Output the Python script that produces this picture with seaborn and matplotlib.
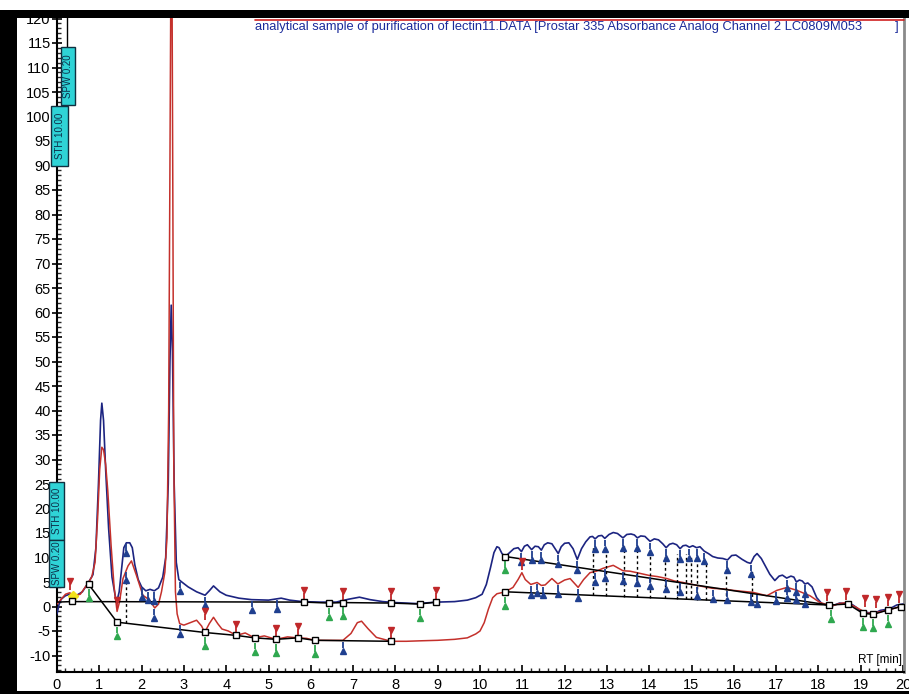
import numpy as np
import pandas as pd
import matplotlib
matplotlib.use("Agg")
import matplotlib.pyplot as plt
from matplotlib.patches import Rectangle
from matplotlib.lines import Line2D
from matplotlib.ticker import MultipleLocator
import seaborn as sns

# ---------------- chromatogram traces (RT in min, signal) ----------------
blue_t = [0.0, 0.05, 0.1, 0.2, 0.3, 0.45, 0.6, 0.75, 0.85, 0.92, 0.98, 1.03, 1.06, 1.1,
          1.15, 1.22, 1.3, 1.38, 1.42, 1.47, 1.53, 1.58, 1.64, 1.72, 1.78, 1.84, 1.92,
          2.0, 2.1, 2.2, 2.3, 2.4, 2.5, 2.57, 2.63, 2.67, 2.7, 2.73, 2.77, 2.82, 2.88,
          2.95, 3.1, 3.3, 3.5, 3.6, 3.7, 3.85, 4.0, 4.3, 4.6, 5.0, 5.3, 5.5, 5.8, 6.2,
          6.6, 6.9, 7.15, 7.4, 7.7, 8.0, 8.5, 9.0, 9.4, 9.7, 9.9, 10.05, 10.15, 10.25,
          10.33, 10.4, 10.45, 10.52, 10.6, 10.7, 10.8, 10.9, 10.98, 11.05, 11.12, 11.22,
          11.3, 11.38, 11.45, 11.52, 11.6, 11.7, 11.85, 11.92, 12.0, 12.1, 12.2, 12.3,
          12.4, 12.5, 12.6, 12.66, 12.72, 12.8, 12.88, 12.95, 13.05, 13.15, 13.25, 13.38,
          13.47, 13.57, 13.65, 13.72, 13.8, 13.9, 14.02, 14.12, 14.22, 14.32, 14.4, 14.48,
          14.56, 14.65, 14.73, 14.8, 14.87, 14.95, 15.03, 15.12, 15.2, 15.3, 15.4, 15.5,
          15.62, 15.74, 15.85, 15.95, 16.05, 16.2, 16.32, 16.4, 16.48, 16.55, 16.65, 16.75,
          16.85, 16.97, 17.07, 17.15, 17.25, 17.35, 17.42, 17.48, 17.55, 17.62, 17.68,
          17.75, 17.85, 17.96, 18.08, 18.2, 18.35, 18.5, 18.67, 18.8, 18.9, 19.05, 19.15,
          19.3, 19.46, 19.6, 19.7, 19.85, 20.0]
blue_y = [-1.5, 0.5, 1.5, 2.2, 2.5, 2.2, 3.0, 5.0, 6.5, 12.0, 25.0, 38.0, 41.5, 38.0,
          28.0, 16.0, 6.0, 2.0, 1.2, 3.0, 8.0, 12.0, 13.0, 13.0, 12.0, 8.5, 5.5,
          4.0, 3.2, 3.5, 3.2, 3.8, 6.0, 10.0, 25.0, 50.0, 61.5, 52.0, 25.0, 9.0, 5.5,
          5.0, 4.0, 3.0, 2.3, 3.2, 4.2, 3.0, 2.3, 1.7, 1.4, 1.3, 1.7, 1.3, 1.0, 0.9,
          0.9, 1.5, 1.9, 1.4, 1.0, 0.8, 0.6, 0.9, 1.0, 1.3, 1.8, 2.5, 4.5, 8.0,
          11.0, 12.2, 12.0, 10.8, 10.2, 11.0, 11.8, 12.0, 11.2, 12.3, 12.6, 11.6,
          12.3, 12.2, 11.5, 12.6, 13.0, 12.8, 10.8, 12.2, 12.9, 13.0, 11.8, 9.6,
          11.8, 13.2, 14.2, 14.3, 13.8, 14.4, 14.5, 13.9, 14.7, 15.1, 14.9, 14.0,
          14.7, 14.8, 14.6, 14.0, 14.4, 14.3, 13.3, 13.8, 13.6, 12.8, 12.0, 12.7,
          12.9, 12.6, 11.8, 12.4, 12.5, 12.1, 12.4, 12.0, 12.2, 11.3, 10.8, 10.2,
          9.9, 9.8, 9.5, 10.4, 10.5, 9.6, 9.0, 8.8, 10.2, 10.8, 9.8, 8.2,
          6.6, 5.3, 6.2, 6.4, 5.8, 6.2, 6.0, 5.0, 5.4, 5.2, 4.6,
          4.8, 4.0, 1.8, 0.6, 0.3, 0.2, 0.7, 0.6, 0.4, -0.2, -1.4, -1.2,
          -1.5, -0.8, -0.6, -0.4, 0.3, 0.5]

red_t = [0.0, 0.1, 0.2, 0.3, 0.4, 0.55, 0.73, 0.82, 0.9, 0.96, 1.01, 1.06, 1.1, 1.15,
         1.2, 1.28, 1.35, 1.42, 1.48, 1.56, 1.68, 1.76, 1.88, 2.03, 2.19, 2.31, 2.4,
         2.47, 2.55, 2.6, 2.64, 2.67, 2.69, 2.72, 2.74, 2.76, 2.8, 2.84, 2.9, 3.0, 3.15,
         3.3, 3.42, 3.49, 3.6, 3.7, 3.8, 3.9, 4.05, 4.24, 4.45, 4.67, 4.9, 5.18, 5.45,
         5.69, 5.9, 6.09, 6.4, 6.76, 6.95, 7.1, 7.2, 7.35, 7.55, 7.9, 8.26, 8.6, 9.0,
         9.4, 9.7, 9.9, 10.0, 10.1, 10.2, 10.3, 10.4, 10.5, 10.6, 10.78, 10.9, 10.99,
         11.07, 11.2, 11.35, 11.45, 11.54, 11.7, 11.84, 12.0, 12.13, 12.32, 12.45, 12.6,
         12.75, 12.91, 13.15, 13.38, 13.55, 13.71, 14.02, 14.2, 14.42, 14.6, 14.8, 15.13,
         15.5, 15.75, 15.98, 16.2, 16.45, 16.78, 17.02, 17.26, 17.49, 17.8, 18.04, 18.2,
         18.35, 18.5, 18.67, 18.9, 19.15, 19.39, 19.62, 19.86, 20.0]
red_y = [0.5, 1.5, 2.5, 2.8, 2.2, 2.5, 4.7, 6.0, 9.0, 18.0, 28.0, 32.5, 32.0, 29.0,
         23.7, 12.3, 4.0, -1.0, 1.0, 5.7, 8.3, 9.3, 6.3, 2.3, 1.3, -0.3, 0.5,
         3.0, 7.0, 14.0, 40.0, 90.0, 125.0, 125.0, 80.0, 30.0, 3.0, -1.5, -3.5, -3.8, -3.3,
         -2.8, -4.0, -5.3, -3.5, -2.2, -3.5, -4.6, -5.0, -5.9, -5.4, -6.4, -6.0, -6.7, -6.2,
         -6.4, -6.5, -6.9, -6.9, -6.9, -5.5, -3.3, -3.0, -4.5, -6.3, -7.1, -7.1, -7.0, -6.9,
         -6.7, -6.4, -5.6, -5.0, -3.3, -0.5, 1.8, 2.6, 2.8, 3.0, 3.9, 5.5, 6.9,
         5.5, 4.5, 4.9, 4.3, 4.4, 5.7, 4.6, 5.4, 5.7, 3.9, 5.5, 6.9,
         7.2, 7.8, 8.4, 7.3, 7.2, 6.9, 6.3, 6.1, 5.7, 5.2, 4.9, 4.3,
         3.7, 3.6, 3.3, 3.1, 2.9, 2.2, 3.3, 3.9, 3.3, 2.2, 0.8, 0.4,
         0.2, 0.6, 0.8, -0.2, -1.4, -1.2, -0.8, -0.2, 0.3]

# ---------------- integration baselines ----------------
blue_base_t = [0.0, 0.35, 5.84, 6.43, 6.76, 7.9, 8.57, 8.96]
blue_base_y = [0.9, 1.0, 0.9, 0.7, 0.8, 0.7, 0.5, 0.9]
red_base_t = [0.75, 1.42, 3.49, 4.24, 4.67, 5.18, 5.69, 6.09, 7.9]
red_base_y = [4.5, -3.2, -5.3, -5.9, -6.4, -6.7, -6.4, -6.9, -7.1]
blue_base_r_t = [10.6, 18.25]
blue_base_r_y = [10.2, 0.3]
red_base_r_t = [10.6, 18.25]
red_base_r_y = [3.0, 0.3]
tail_base_t = [18.25, 18.7, 19.05, 19.3, 19.65, 19.95]
tail_base_y = [0.3, 0.5, -1.4, -1.6, -0.7, 0.0]

# ---------------- peak event markers ----------------
square_t = [0.35, 0.75, 1.42, 3.49, 4.24, 4.67, 5.18, 5.69, 6.09, 7.9,
            5.84, 6.43, 6.76, 7.9, 8.57, 8.96, 10.6, 10.6,
            18.25, 18.7, 19.05, 19.3, 19.65, 19.95]
square_y = [1.2, 4.5, -3.2, -5.3, -5.9, -6.4, -6.7, -6.4, -6.9, -7.1,
            0.9, 0.7, 0.8, 0.7, 0.5, 0.9, 10.2, 3.0,
            0.3, 0.5, -1.4, -1.6, -0.7, 0.0]
end_t = [0.3, 1.42, 3.49, 4.24, 5.18, 5.69, 7.9, 5.84, 6.76, 7.9, 8.96, 10.99,
         18.2, 18.65, 19.1, 19.35, 19.65, 19.9]
end_y = [2.8, -1.0, -3.4, -5.9, -6.7, -6.4, -7.1, 0.9, 0.8, 0.7, 0.9, 6.9,
         0.5, 0.8, -0.6, -0.9, -0.5, 0.2]
start_t = [0.75, 1.42, 3.49, 4.67, 5.18, 6.09, 6.43, 6.76, 8.57, 10.6, 10.6,
           18.3, 19.05, 19.3, 19.65]
start_y = [4.5, -3.2, -5.3, -6.4, -6.7, -6.9, 0.7, 0.8, 0.5, 10.2, 3.0,
           0.3, -1.4, -1.6, -0.7]
split_blue_t = [1.64, 2.0, 2.15, 2.3, 2.9, 3.49, 4.6, 5.2,
                10.98, 11.22, 11.45, 11.85, 12.3, 12.72, 12.95, 13.38, 13.72, 14.02,
                14.4, 14.73, 14.95, 15.12, 15.3, 15.85, 16.4, 17.25, 17.48, 17.68]
split_red_t = [1.64, 2.3, 2.9, 6.76,
               11.2, 11.35, 11.5, 11.84, 12.32, 12.72, 12.95, 13.38, 13.72, 14.02,
               14.4, 14.73, 15.12, 15.5, 15.85, 16.4, 16.55, 17.0, 17.25, 17.48, 17.68]
drop_t = [12.68, 12.98, 13.4, 13.72, 14.03, 14.38, 14.65, 14.86, 14.99, 15.13,
          15.34, 15.82, 16.43]

title_text = ("analytical sample of purification of lectin11.DATA [Prostar 335 "
              "Absorbance Analog Channel 2 LC0809M053")

x_ticks = list(range(0, 21))
y_ticks = list(range(-10, 121, 5))

# ---------------- figure ----------------
sns.set_theme(style="white")
plt.rcParams["font.family"] = ["Liberation Sans", "DejaVu Sans"]

W, H = 909, 694
fig = plt.figure(figsize=(W / 100, H / 100), dpi=100)
fig.patch.set_facecolor("white")


def fpx(x, y):
    return x / W, 1 - y / H


ax_left, ax_right, ax_top, ax_bot = 57, 904, 18, 672
ax = fig.add_axes([ax_left / W, 1 - ax_bot / H, (ax_right - ax_left) / W,
                   (ax_bot - ax_top) / H])
ax.set_facecolor("white")

BLUE = "#1c2481"
RED = "#c4302b"
GREEN = "#2fa84f"
PINBLUE = "#1f3f8f"

df_blue = pd.DataFrame({"t": blue_t, "v": blue_y})
df_red = pd.DataFrame({"t": red_t, "v": red_y})
sns.lineplot(data=df_blue, x="t", y="v", ax=ax, color=BLUE, lw=1.2,
             estimator=None, sort=False, zorder=3)
sns.lineplot(data=df_red, x="t", y="v", ax=ax, color=RED, lw=1.1,
             estimator=None, sort=False, zorder=4)

# baselines
for bt, by in [(blue_base_t, blue_base_y), (red_base_t, red_base_y),
               (blue_base_r_t, blue_base_r_y), (red_base_r_t, red_base_r_y),
               (tail_base_t, tail_base_y)]:
    ax.plot(bt, by, color="black", lw=1.1, zorder=5)

# perpendicular drops
drop_top = np.interp(drop_t, blue_t, blue_y) - 1.8
drop_bot = np.interp(drop_t, red_base_r_t, red_base_r_y)
ax.vlines(drop_t, drop_bot, drop_top, colors="black", linestyles=(0, (2, 2)),
          lw=1.0, zorder=5)
ax.vlines([1.64], [-3.3], [5.0], colors="black", linestyles=(0, (2, 2)),
          lw=1.0, zorder=5)

STEM = 1.3


def pins(ts, ys, color, up, zorder=7):
    ts = np.asarray(ts, float)
    ys = np.asarray(ys, float)
    sgn = 1 if up else -1
    ax.vlines(ts, ys, ys + sgn * STEM, colors=color, lw=1.3, zorder=zorder)
    ax.plot(ts, ys + sgn * (STEM + 0.5), ls="none",
            marker="v" if up else "^", ms=5, color=color, mec=color, zorder=zorder)


# split markers on the traces
pins(split_blue_t, np.interp(split_blue_t, blue_t, blue_y) - 0.3, PINBLUE, up=False)
pins(split_red_t, np.interp(split_red_t, red_t, red_y) - 0.3, PINBLUE, up=False)
# start (green) and end (red) markers
pins(start_t, np.asarray(start_y) - 1.0, GREEN, up=False)
pins(end_t, np.asarray(end_y) + 0.6, "#c0282a", up=True)
ax.plot([0.37], [2.2], ls="none", marker="D", ms=5, color="#f2e21b", zorder=8)
ax.plot(square_t, square_y, ls="none", marker="s", ms=5, mfc="white",
        mec="black", mew=1.0, zorder=9)

# event line at the start
ax.vlines([0.24], [105.5], [121], colors="black", lw=1.0, zorder=6)

# axes styling
ax.set_xlim(0, (ax_right - ax_left) / 42.3)
ax.set_ylim((606.5 - ax_bot) / 4.9, (606.5 - ax_top) / 4.9)
ax.set_xticks(x_ticks)
ax.set_xticklabels([str(v) for v in x_ticks])
ax.set_yticks(y_ticks)
ax.set_yticklabels([str(v) for v in y_ticks])
ax.xaxis.set_minor_locator(MultipleLocator(0.2))
ax.yaxis.set_minor_locator(MultipleLocator(1))
ax.tick_params(axis="x", which="major", direction="in", length=5, width=1.2,
               labelsize=10.5, pad=4, colors="black", bottom=True)
ax.tick_params(axis="x", which="minor", direction="in", length=3, width=1,
               bottom=True)
ax.tick_params(axis="y", which="major", direction="inout", length=7, width=1.2,
               labelsize=10.5, pad=1, colors="black", left=True)
ax.tick_params(axis="y", which="minor", direction="in", length=3, width=1,
               left=True)
ax.spines["top"].set_visible(False)
ax.spines["left"].set_color("black")
ax.spines["left"].set_linewidth(1.5)
ax.spines["bottom"].set_color("black")
ax.spines["bottom"].set_linewidth(1.5)
ax.spines["right"].set_color("#8a8a8a")
ax.spines["right"].set_linewidth(2.0)
ax.set_xlabel("")
ax.set_ylabel("")
ax.text(0.998, (606.5 - 660) / 4.9, "RT [min]", transform=ax.get_yaxis_transform(),
        ha="right", va="center", fontsize=8.5, color="black", zorder=10)

# header text and legend line
fig.text(*fpx(255, 27), title_text, ha="left", va="center", fontsize=9.3,
         color="#1a2a9a")
fig.text(*fpx(895, 27), "]", ha="left", va="center", fontsize=9.3, color="#1a2a9a")
fig.add_artist(Line2D([255 / W, 904 / W], [1 - 19.5 / H, 1 - 19.5 / H],
                      color="#d02020", lw=1.2))

# parameter boxes
for (x0, x1, y0, y1, label) in [(61, 75, 47, 105, "SPW 0.20"),
                                (51, 68, 106, 166, "STH 10.00"),
                                (49, 64, 482, 540, "STH 10.00"),
                                (49, 64, 540, 587, "SPW 0.20")]:
    bx, by = fpx(x0, y1)
    fig.add_artist(Rectangle((bx, by), (x1 - x0) / W, (y1 - y0) / H,
                             transform=fig.transFigure, facecolor="#2fd3d6",
                             edgecolor="#103040", lw=1.0, zorder=20))
    cx, cy = fpx((x0 + x1) / 2, (y0 + y1) / 2)
    fig.text(cx, cy, label, rotation=90, ha="center", va="center", fontsize=7,
             color="#0d2f4a", zorder=21)

# black frame bands
fig.add_artist(Rectangle((9 / W, 1 - 18 / H), 1 - 9 / W, 8 / H,
                         transform=fig.transFigure, facecolor="black",
                         edgecolor="none", zorder=30))
fig.add_artist(Rectangle((0, 0), 17 / W, 1 - 10 / H, transform=fig.transFigure,
                         facecolor="black", edgecolor="none", zorder=30))
fig.add_artist(Rectangle((0, 0), 1, 3 / H, transform=fig.transFigure,
                         facecolor="black", edgecolor="none", zorder=30))

fig.savefig("out.png", dpi=100, facecolor="white")
